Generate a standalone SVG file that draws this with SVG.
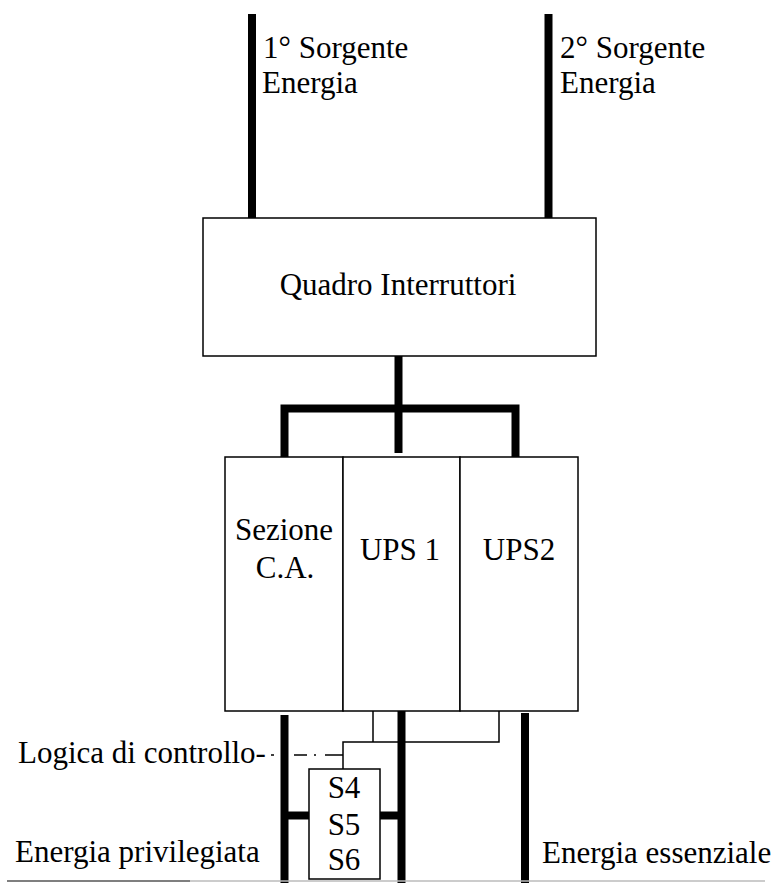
<svg xmlns="http://www.w3.org/2000/svg" width="774" height="883" viewBox="0 0 774 883">
<style>
text{font-family:"Liberation Serif","Times New Roman",serif;font-size:31px;fill:#000}
.box{fill:#fff;stroke:#000;stroke-width:1.5}
.thick{fill:none;stroke:#000;stroke-width:8;stroke-linecap:butt;stroke-linejoin:miter}
.thin{fill:none;stroke:#000;stroke-width:1.5}
.c{text-anchor:middle}
</style>
<rect width="774" height="883" fill="#fff"/>
<g id="connectors">
<line class="thick" x1="252" y1="14" x2="252" y2="219"/>
<line class="thick" x1="548.5" y1="14" x2="548.5" y2="219"/>
<line class="thick" x1="398.5" y1="353" x2="398.5" y2="453"/>
<polyline class="thick" points="284.5,458 284.5,408.5 515.5,408.5 515.5,458"/>
<line class="thin" x1="373" y1="711" x2="373" y2="742"/>
<polyline class="thin" points="343,769 343,742 499,742 499,711"/>
<path class="thin" d="M271,755H274M294,755H307M314,755H316M325,755H343"/>
<line class="thick" x1="284.5" y1="715" x2="284.5" y2="883"/>
<line class="thick" x1="401.5" y1="711" x2="401.5" y2="883"/>
<line class="thick" x1="525" y1="713" x2="525" y2="883"/>
<line class="thick" x1="284.5" y1="815.5" x2="309" y2="815.5"/>
<line class="thick" x1="380" y1="815.5" x2="401.5" y2="815.5"/>
<line x1="7" y1="881" x2="190" y2="881" stroke="#555" stroke-width="1.5"/>
<line x1="190" y1="881" x2="765" y2="881" stroke="#bbb" stroke-width="1.5"/>
</g>
<g id="src1">
<text x="263" y="58">1° Sorgente</text>
<text x="262" y="93">Energia</text>
</g>
<g id="src2">
<text x="560" y="58">2° Sorgente</text>
<text x="560" y="93">Energia</text>
</g>
<g id="quadro">
<rect class="box" x="203" y="218" width="393" height="138"/>
<text class="c" x="398" y="295">Quadro Interruttori</text>
</g>
<g id="sezione">
<rect class="box" x="225" y="457" width="118" height="254"/>
<text class="c" x="284" y="540">Sezione</text>
<text class="c" x="285" y="578">C.A.</text>
</g>
<g id="ups1">
<rect class="box" x="343" y="457" width="117" height="254"/>
<text class="c" x="400" y="560">UPS 1</text>
</g>
<g id="ups2">
<rect class="box" x="460" y="457" width="118" height="254"/>
<text class="c" x="519" y="560">UPS2</text>
</g>
<g id="switch">
<rect class="box" x="309" y="769" width="71" height="110"/>
<text class="c" x="344" y="798">S4</text>
<text class="c" x="344" y="835">S5</text>
<text class="c" x="344" y="870">S6</text>
</g>
<g id="labels">
<text x="18" y="763">Logica di controllo-</text>
<text x="15" y="862">Energia privilegiata</text>
<text x="542" y="863">Energia essenziale</text>
</g>
</svg>
